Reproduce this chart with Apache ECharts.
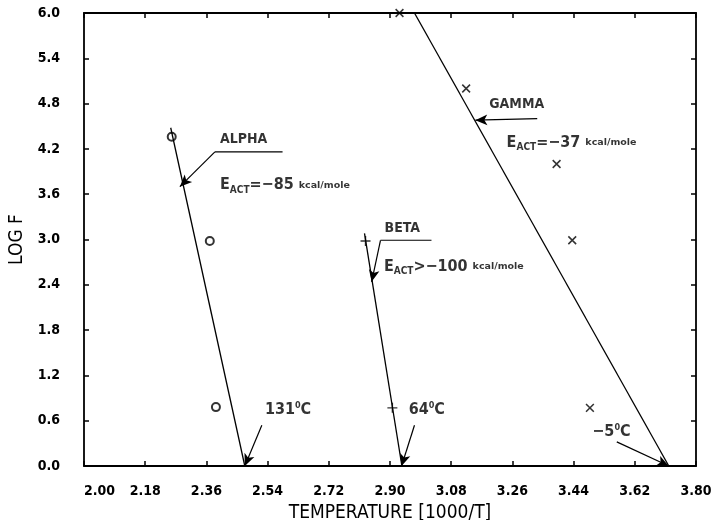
<!DOCTYPE html>
<html>
<head>
<meta charset="utf-8">
<script src="https://cdn.jsdelivr.net/npm/echarts@6/dist/echarts.min.js"></script>
<style>html,body{margin:0;padding:0;background:#fff}#c{width:717px;height:520px}</style>
</head>
<body>
<div id="c"></div>
<script>
// ---- data ----
const xTicks = [2.00, 2.18, 2.36, 2.54, 2.72, 2.90, 3.08, 3.26, 3.44, 3.62, 3.80];
const yTicks = [0.0, 0.6, 1.2, 1.8, 2.4, 3.0, 3.6, 4.2, 4.8, 5.4, 6.0];
const alphaPoints = [[2.258, 4.36], [2.37, 2.98], [2.388, 0.78]];
const betaPoints = [[2.828, 2.98], [2.907, 0.77]];
const gammaPoints = [[2.928, 6.0], [3.124, 5.0], [3.39, 4.0], [3.436, 2.99], [3.488, 0.77]];
const alphaFit = [[2.255, 4.48], [2.473, 0.0]];
const betaFit = [[2.825, 3.08], [2.935, 0.0]];
const gammaFit = [[2.972, 6.0], [3.72, 0.0]];
// leader lines / arrows: [from, to]
const underlines = [
  [[2.385, 4.16], [2.584, 4.16]],
  [[2.872, 2.99], [3.022, 2.99]]
];
const arrows = [
  [[2.385, 4.16], [2.282, 3.70]],
  [[2.872, 2.99], [2.846, 2.44]],
  [[3.333, 4.60], [3.151, 4.58]],
  [[2.523, 0.54], [2.473, 0.0]],
  [[2.972, 0.54], [2.934, 0.0]],
  [[3.567, 0.32], [3.72, 0.0]]
];
// text annotations: [x, y, text]
const notes = [
  [2.400, 4.32, '{b|ALPHA}'],
  [2.400, 3.72, '{e|E}{s|ACT}{e|=−85 }{k|kcal/mole}'],
  [2.884, 3.15, '{b|BETA}'],
  [2.882, 2.64, '{e|E}{s|ACT}{e|>−100 }{k|kcal/mole}'],
  [3.192, 4.79, '{b|GAMMA}'],
  [3.243, 4.28, '{e|E}{s|ACT}{e|=−37 }{k|kcal/mole}'],
  [2.532, 0.74, '{e|131}{u|0}{e|C}'],
  [2.955, 0.74, '{e|64}{u|0}{e|C}'],
  [3.495, 0.45, '{e|−5}{u|0}{e|C}']
];

const FONT = 'DejaVu Sans';
const COND = 'DejaVu Sans Condensed';
const chart = echarts.init(document.getElementById('c'), null, {renderer: 'canvas'});

const axisBase = {
  min: xTicks[0], max: xTicks[xTicks.length - 1],
  interval: +(xTicks[1] - xTicks[0]).toFixed(2),
  axisLine: {onZero: false, lineStyle: {color: '#000', width: 1.8}},
  axisTick: {inside: true, length: 5, lineStyle: {color: '#000', width: 1.5}},
  splitLine: {show: false}
};
const yBase = {
  min: yTicks[0], max: yTicks[yTicks.length - 1],
  interval: +(yTicks[1] - yTicks[0]).toFixed(1),
  axisLine: {onZero: false, lineStyle: {color: '#000', width: 1.8}},
  axisTick: {inside: true, length: 5, lineStyle: {color: '#000', width: 1.5}},
  splitLine: {show: false}
};

const plusPath = 'path://M4.3,0H5.7V10H4.3ZM0,4.3H10V5.7H0Z';

const lineSeries = (data) => ({
  type: 'line', data: data, symbol: 'none', silent: true, animation: false,
  lineStyle: {color: '#000', width: 1.3}
});

const option = {
  animation: false,
  backgroundColor: '#fff',
  grid: {left: 84, right: 21, top: 13, bottom: 54, containLabel: false, outerBoundsMode: 'none'},
  xAxis: [
    Object.assign({}, axisBase, {
      type: 'value', position: 'bottom',
      name: 'TEMPERATURE [1000/T]', nameLocation: 'middle', nameGap: 38,
      nameTextStyle: {fontFamily: COND, fontSize: 19, color: '#000'},
      axisLabel: {fontFamily: COND, fontWeight: 'bold', fontSize: 14, color: '#000', margin: 18,
        alignMinLabel: 'left', formatter: v => v.toFixed(2)}
    }),
    Object.assign({}, axisBase, {type: 'value', position: 'top', axisLabel: {show: false}})
  ],
  yAxis: [
    Object.assign({}, yBase, {
      type: 'value', position: 'left',
      name: 'LOG F', nameLocation: 'middle', nameGap: 56,
      nameTextStyle: {fontFamily: COND, fontSize: 19, color: '#000'},
      axisLabel: {fontFamily: COND, fontWeight: 'bold', fontSize: 14, color: '#000', margin: 24,
        formatter: v => v.toFixed(1)}
    }),
    Object.assign({}, yBase, {type: 'value', position: 'right', axisLabel: {show: false}})
  ],
  series: [
    lineSeries(alphaFit),
    lineSeries(betaFit),
    lineSeries(gammaFit),
    ...underlines.map(u => Object.assign(lineSeries(u), {lineStyle: {color: '#000', width: 1.1}})),
    {
      type: 'line', data: [], silent: true,
      markLine: {
        silent: true, symbol: ['none', 'arrow'], symbolSize: [8, 12],
        label: {show: false},
        lineStyle: {color: '#000', width: 1.2, type: 'solid'},
        data: arrows.map(a => [{coord: a[0]}, {coord: a[1]}])
      }
    },
    {
      type: 'scatter', data: alphaPoints, symbol: 'emptyCircle', symbolSize: 8, clip: false,
      itemStyle: {color: '#000', borderColor: '#000', borderWidth: 1.8}
    },
    {
      type: 'scatter', data: betaPoints, symbol: plusPath, symbolSize: 10, clip: false,
      itemStyle: {color: '#000'}
    },
    {
      type: 'scatter', data: gammaPoints, symbol: plusPath, symbolSize: 11, symbolRotate: 45, clip: false,
      itemStyle: {color: '#000'}
    },
    {
      type: 'scatter', symbolSize: 0, silent: true, clip: false,
      data: notes.map(n => ({value: [n[0], n[1]], label: {formatter: n[2]}})),
      label: {
        show: true, position: 'right', distance: 0, color: '#000',
        rich: {
          b: {fontFamily: COND, fontWeight: 'bold', fontSize: 14, color: '#000'},
          e: {fontFamily: COND, fontWeight: 'bold', fontSize: 16, color: '#000'},
          s: {fontFamily: COND, fontWeight: 'bold', fontSize: 10, color: '#000', padding: [10, 0, 0, 0]},
          k: {fontFamily: FONT, fontWeight: 'bold', fontSize: 9.5, color: '#000'},
          u: {fontFamily: COND, fontWeight: 'bold', fontSize: 9, color: '#000', padding: [0, 0, 9, 0]}
        }
      }
    }
  ]
};
chart.setOption(option);
</script>
</body>
</html>
